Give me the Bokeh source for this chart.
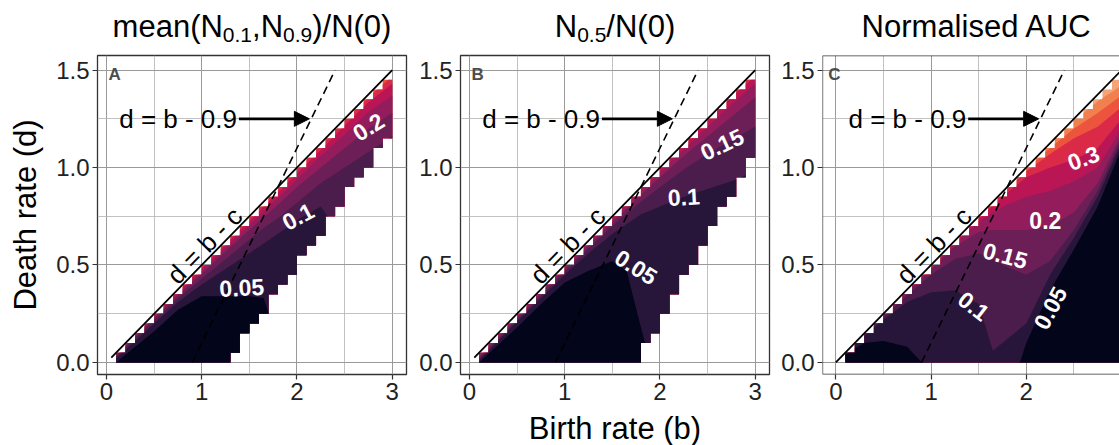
import numpy as np
from bokeh.plotting import figure
from bokeh.layouts import row, column
from bokeh.models import FixedTicker, PrintfTickFormatter, Label, Arrow, NormalHead, Span, Range1d
from bokeh.core.properties import value
from bokeh.embed import file_html
from bokeh.resources import INLINE

FONT = "Liberation Sans"

# ---------------- data ----------------
# grid columns (left edge of each birth-rate cell) and top of valid domain (d <= b - c)
col_left = [0.1, 0.2, 0.3, 0.4, 0.5, 0.6, 0.7, 0.8, 0.9, 1.0, 1.1, 1.2, 1.3, 1.4, 1.5,
            1.6, 1.7, 1.8, 1.9, 2.0, 2.1, 2.2, 2.3, 2.4, 2.5, 2.6, 2.7, 2.8, 2.9]
col_top = [0.05, 0.1, 0.15, 0.2, 0.25, 0.3, 0.35, 0.4, 0.45, 0.5, 0.55, 0.6, 0.65, 0.7, 0.75,
           0.8, 0.85, 0.9, 0.95, 1.0, 1.05, 1.1, 1.15, 1.2, 1.25, 1.3, 1.35, 1.4, 1.45]
A_bottom = [0, 0, 0, 0, 0, 0, 0, 0, 0, 0, 0, 0, 0.05, 0.15, 0.2,
            0.25, 0.35, 0.4, 0.45, 0.55, 0.6, 0.65, 0.75, 0.8, 0.9, 0.95, 1.0, 1.1, 1.15]
B_bottom = [0, 0, 0, 0, 0, 0, 0, 0, 0, 0, 0, 0, 0, 0, 0,
            0, 0, 0.1, 0.15, 0.25, 0.35, 0.45, 0.5, 0.6, 0.7, 0.8, 0.85, 0.95, 1.05]
C_bottom = [0, 0, 0, 0, 0, 0, 0, 0, 0, 0, 0, 0, 0, 0, 0,
            0, 0, 0, 0, 0, 0, 0, 0, 0, 0, 0, 0, 0, 0]

# contour crossings (death rate where the metric reaches each level) at birth-rate knots
K = [0.1, 0.3, 0.5, 0.75, 1.0, 1.25, 1.5, 1.65, 1.8, 2.0, 2.25, 2.5, 2.75, 3.0]

A_levels = ["0.05", "0.1", "0.15", "0.2", "0.25", "0.3", "0.35"]
A_c005 = [0.0, 0.08, 0.16, 0.27, 0.34, 0.34, 0.34, 0.33, 0.1, -0.3, -1, -1, -1, -1]
A_c010 = [0.02, 0.11, 0.2, 0.31, 0.40, 0.48, 0.56, 0.61, 0.66, 0.73, 0.80, 0.62, 0.3, 0.0]
A_c015 = [0.03, 0.125, 0.215, 0.33, 0.43, 0.53, 0.63, 0.69, 0.74, 0.82, 0.92, 1.0, 1.08, 1.16]
A_c020 = [0.035, 0.132, 0.226, 0.345, 0.455, 0.57, 0.68, 0.745, 0.81, 0.90, 1.0, 1.1, 1.2, 1.28]
A_c025 = [0.04, 0.137, 0.233, 0.355, 0.47, 0.59, 0.705, 0.775, 0.845, 0.94, 1.06, 1.17, 1.285, 1.37]
A_c030 = [0.044, 0.142, 0.24, 0.363, 0.482, 0.605, 0.725, 0.8, 0.872, 0.97, 1.09, 1.215, 1.335, 1.43]
A_c035 = [0.048, 0.146, 0.245, 0.37, 0.492, 0.617, 0.74, 0.815, 0.89, 0.99, 1.113, 1.24, 1.36, 1.47]

B_levels = ["0.05", "0.1", "0.15", "0.2", "0.25", "0.3", "0.35"]
B_c005 = [0.0, 0.09, 0.18, 0.30, 0.41, 0.47, 0.52, 0.47, 0.18, -0.2, -1, -1, -1, -1]
B_c010 = [0.01, 0.11, 0.21, 0.33, 0.45, 0.56, 0.66, 0.71, 0.76, 0.80, 0.85, 0.89, 0.93, 0.98]
B_c015 = [0.02, 0.12, 0.22, 0.345, 0.465, 0.585, 0.70, 0.765, 0.825, 0.9, 0.99, 1.07, 1.14, 1.21]
B_c020 = [0.03, 0.13, 0.23, 0.355, 0.478, 0.6, 0.72, 0.79, 0.86, 0.95, 1.06, 1.16, 1.26, 1.36]
B_c025 = [0.038, 0.137, 0.236, 0.362, 0.486, 0.61, 0.733, 0.806, 0.878, 0.973, 1.093, 1.21, 1.325, 1.43]
B_c030 = [0.044, 0.143, 0.242, 0.368, 0.492, 0.617, 0.742, 0.817, 0.89, 0.988, 1.112, 1.237, 1.36, 1.47]
B_c035 = [0.048, 0.147, 0.247, 0.372, 0.497, 0.622, 0.747, 0.822, 0.896, 0.995, 1.12, 1.245, 1.37, 1.49]

C_levels = ["0.05", "0.1", "0.15", "0.2", "0.25", "0.3", "0.35", "0.4", "0.45"]
C_c005 = [0.04, 0.1, 0.11, 0.08, -0.05, -1, -1, -1, -0.2, 0.1, 0.37, 0.58, 0.8, 1.1]
C_c010 = [0.045, 0.135, 0.22, 0.31, 0.36, 0.37, 0.3, 0.06, 0.12, 0.2, 0.45, 0.64, 0.85, 1.13]
C_c015 = [0.046, 0.142, 0.232, 0.345, 0.45, 0.53, 0.56, 0.53, 0.49, 0.45, 0.52, 0.68, 0.88, 1.15]
C_c020 = [0.047, 0.145, 0.24, 0.36, 0.475, 0.595, 0.67, 0.68, 0.68, 0.68, 0.7, 0.77, 0.92, 1.17]
C_c025 = [0.048, 0.147, 0.244, 0.366, 0.485, 0.61, 0.72, 0.77, 0.81, 0.85, 0.88, 0.93, 1.0, 1.2]
C_c030 = [0.049, 0.148, 0.247, 0.37, 0.49, 0.615, 0.735, 0.805, 0.87, 0.95, 1.0, 1.04, 1.1, 1.25]
C_c035 = [0.0495, 0.149, 0.248, 0.372, 0.494, 0.619, 0.742, 0.817, 0.889, 0.98, 1.07, 1.15, 1.21, 1.31]
C_c040 = [0.05, 0.15, 0.25, 0.374, 0.497, 0.622, 0.746, 0.821, 0.895, 0.99, 1.1, 1.2, 1.28, 1.37]
C_c045 = [0.05, 0.15, 0.25, 0.375, 0.5, 0.625, 0.75, 0.825, 0.9, 1.0, 1.12, 1.24, 1.34, 1.42]

# contour labels
A_lab_text = ["0.05", "0.1", "0.2"]
A_lab_b = [1.42, 2.01, 2.75]
A_lab_d = [0.385, 0.75, 1.21]
A_lab_ang = [3, 28, 32]
B_lab_text = ["0.05", "0.1", "0.15"]
B_lab_b = [1.75, 2.25, 2.65]
B_lab_d = [0.49, 0.85, 1.12]
B_lab_ang = [-32, 3, 25]
C_lab_text = ["0.05", "0.1", "0.15", "0.2", "0.3"]
C_lab_b = [2.25, 1.45, 1.78, 2.2, 2.6]
C_lab_d = [0.28, 0.29, 0.55, 0.73, 1.05]
C_lab_ang = [62, -38, -15, 0, 20]

# reference lines
diagAB_b = [0.05, 3.0]
diagAB_d = [0.025, 1.5]
diagC_b = [0.0, 3.0]
diagC_d = [0.0, 1.5]
dash_b = [0.9, 2.4]
dash_d = [0.0, 1.5]

band_colors = ["#03051A", "#28163A", "#4A1D4C", "#6C1F56", "#931D5C",
               "#BA1656", "#DA2A48", "#EC543E", "#F2804F", "#F5A377"]

ARIAL = {'m': 833, 'e': 556, 'a': 556, 'n': 556, '(': 333, ')': 333, 'N': 722, '0': 556,
         '.': 278, '1': 556, '9': 556, '5': 556, ',': 278, '/': 278, 'o': 556, 'r': 333,
         'l': 222, 'i': 222, 's': 500, 'd': 556, ' ': 278, 'A': 667, 'U': 722, 'C': 722}


def tw(s, size):
    return sum(ARIAL[c] for c in s) * size / 1000.0


COL_W = 0.1
FRAME_W = 309
XS, XE = -0.095, 3.15
YS, YE = -0.062, 1.575
PX = FRAME_W / (XE - XS)
TITLE_H = 52
MAIN_H = 359
XLAB_H = 34


def stair_poly(curve, bottom):
    xs, ys = [], []
    for i, b0 in enumerate(col_left):
        xx = np.linspace(b0, b0 + COL_W, 9)
        if curve is None:
            u = np.full(xx.shape, col_top[i])
        else:
            u = np.interp(xx, K, curve)
        u = np.clip(u, bottom[i], col_top[i])
        xs.extend(xx.tolist())
        ys.extend(u.tolist())
    for i in range(len(col_left) - 1, -1, -1):
        b0 = col_left[i]
        xs.extend([b0 + COL_W, b0])
        ys.extend([bottom[i], bottom[i]])
    return xs, ys


def make_title(width, bl, br, x_start, x_end, title_parts):
    t = figure(width=width, height=TITLE_H, output_backend="svg", toolbar_location=None,
               x_range=Range1d(x_start, x_end), y_range=Range1d(0, TITLE_H),
               x_axis_type=None, y_axis_type=None, min_border=0,
               min_border_left=bl, min_border_right=br, min_border_top=0, min_border_bottom=0)
    t.outline_line_color = None
    t.background_fill_color = "white"
    t.border_fill_color = "white"
    main, sub = 31, 21
    total = sum(tw(s, sub if is_sub else main) for s, is_sub in title_parts)
    px = FRAME_W / 2.0 - total / 2.0
    for s, is_sub in title_parts:
        size = sub if is_sub else main
        t.add_layout(Label(x=x_start + px / PX, y=17.7 if is_sub else 25.7, text=s, text_font=FONT,
                           text_font_size="%dpx" % size, text_align="left",
                           text_baseline="middle", text_color="black"))
        px += tw(s, size)
    return t


def make_panel(width, bl, br, x_start, x_end, bottom, contours, labs, letter,
               letter_x, diag_b, diag_d, ylabel=None, outline=True):
    p = figure(width=width, height=MAIN_H, output_backend="svg", toolbar_location=None,
               x_range=Range1d(x_start, x_end), y_range=Range1d(YS, YE),
               min_border_left=bl, min_border_right=br, min_border_top=3, min_border_bottom=37)
    p.background_fill_color = "white"
    p.border_fill_color = "white"
    if outline:
        p.outline_line_color = "#333333"
        p.outline_line_width = 1.3
    else:
        p.outline_line_color = None
        for loc, dim in ((x_start, "height"), (YS, "width"), (YE, "width")):
            p.add_layout(Span(location=loc, dimension=dim, line_color="#333333", line_width=1.3))

    p.xaxis.ticker = FixedTicker(ticks=[0, 1, 2, 3], minor_ticks=[0.5, 1.5, 2.5])
    p.yaxis.ticker = FixedTicker(ticks=[0, 0.5, 1.0, 1.5], minor_ticks=[0.25, 0.75, 1.25])
    p.yaxis.formatter = PrintfTickFormatter(format="%.1f")
    for ax in (p.xaxis[0], p.yaxis[0]):
        ax.axis_line_color = None
        ax.major_tick_line_color = "#333333"
        ax.major_tick_line_width = 1.2
        ax.major_tick_in = 0
        ax.major_tick_out = 5
        ax.minor_tick_line_color = None
        ax.major_label_text_font = FONT
        ax.major_label_text_font_size = "24px"
        ax.major_label_text_color = "#222222"
        ax.major_label_standoff = 3
        ax.axis_label_text_font = FONT
        ax.axis_label_text_font_size = "31px"
        ax.axis_label_text_font_style = "normal"
        ax.axis_label_text_color = "black"
    if ylabel:
        p.yaxis.axis_label = ylabel
        p.yaxis.axis_label_standoff = 10
    for g in (p.xgrid[0], p.ygrid[0]):
        g.grid_line_color = "#9a9a9a"
        g.grid_line_width = 1.0
        g.minor_grid_line_color = "#b3b3b3"
        g.minor_grid_line_width = 0.8

    # filled contour bands (painter order: highest band first)
    n = len(contours)
    pxs, pys, pcs = [], [], []
    x0, y0 = stair_poly(None, bottom)
    pxs.append(x0); pys.append(y0); pcs.append(band_colors[n])
    for k in range(n - 1, -1, -1):
        xk, yk = stair_poly(contours[k], bottom)
        pxs.append(xk); pys.append(yk); pcs.append(band_colors[k])
    p.patches(xs=pxs, ys=pys, fill_color=pcs, line_color=None)

    # reference lines
    p.line(diag_b, diag_d, line_color="black", line_width=1.8)
    p.line(dash_b, dash_d, line_color="black", line_width=1.6, line_dash="8 5")

    # contour labels
    lt, lb, ld, la = labs
    p.text(x=lb, y=ld, text=lt, angle=la, angle_units="deg", text_align="center",
           text_baseline="middle", text_color="white", text_font=value(FONT),
           text_font_size="23px", text_font_style="bold")

    # annotations
    p.text(x=[1.37], y=[1.25], text=["d = b - 0.9"], text_align="right", text_baseline="middle",
           text_font=value(FONT), text_font_size="26px", text_color="black")
    p.add_layout(Arrow(end=NormalHead(size=15, fill_color="black", line_color="black"),
                       x_start=1.39, y_start=1.25, x_end=2.13, y_end=1.25,
                       line_width=2.6, line_color="black"))
    p.text(x=[1.03], y=[0.6], text=["d = b - c"], angle=45.7, angle_units="deg",
           text_align="center", text_baseline="middle", text_font=value(FONT),
           text_font_size="26px", text_color="black")

    # panel letter
    p.add_layout(Label(x=letter_x, y=1.48, text=letter, text_font=FONT, text_font_size="17px",
                       text_font_style="bold", text_color="#4d4d4d", text_align="left",
                       text_baseline="middle"))
    return p


cx0 = -0.14
cx1 = cx0 + 297 / PX

tA = make_title(410, 97, 4, XS, XE,
                [("mean(N", False), ("0.1", True), (",N", False), ("0.9", True), (")/N(0)", False)])
tB = make_title(362, 50, 3, XS, XE, [("N", False), ("0.5", True), ("/N(0)", False)])
tC = make_title(347, 50, 0, cx0, cx1, [("Normalised AUC", False)])

pA = make_panel(410, 97, 4, XS, XE, A_bottom,
                [A_c005, A_c010, A_c015, A_c020, A_c025, A_c030, A_c035],
                (A_lab_text, A_lab_b, A_lab_d, A_lab_ang),
                "A", 0.02, diagAB_b, diagAB_d, ylabel="Death rate (d)")
pB = make_panel(362, 50, 3, XS, XE, B_bottom,
                [B_c005, B_c010, B_c015, B_c020, B_c025, B_c030, B_c035],
                (B_lab_text, B_lab_b, B_lab_d, B_lab_ang),
                "B", 0.02, diagAB_b, diagAB_d)
pC = make_panel(347, 50, 0, cx0, cx1, C_bottom,
                [C_c005, C_c010, C_c015, C_c020, C_c025, C_c030, C_c035, C_c040, C_c045],
                (C_lab_text, C_lab_b, C_lab_d, C_lab_ang),
                "C", -0.08, diagC_b, diagC_d, outline=False)

# shared x-axis title strip
xl = figure(width=1119, height=XLAB_H, output_backend="svg", toolbar_location=None,
            x_range=Range1d(0, 1119), y_range=Range1d(0, XLAB_H),
            x_axis_type=None, y_axis_type=None, min_border=0)
xl.outline_line_color = None
xl.background_fill_color = "white"
xl.border_fill_color = "white"
xl.add_layout(Label(x=614.5, y=17.2, text="Birth rate (b)", text_font=FONT, text_font_size="31px",
                    text_align="center", text_baseline="middle", text_color="black"))

layout = column(row(tA, tB, tC, spacing=0), row(pA, pB, pC, spacing=0), xl, spacing=0)
open("out.html", "w").write(file_html(layout, INLINE))
